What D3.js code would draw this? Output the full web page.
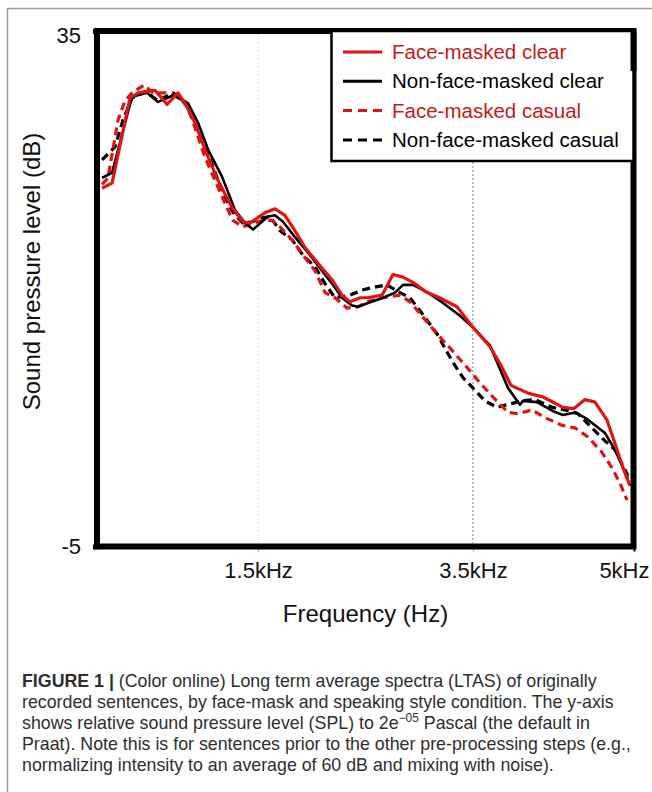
<!DOCTYPE html>
<html><head><meta charset="utf-8">
<script src="https://cdn.jsdelivr.net/npm/d3@7"></script>
<style>
body{margin:0;background:#fff}
svg{display:block}
text{font-family:"Liberation Sans", Arial, Helvetica, sans-serif}
</style>
</head><body>
<svg id="c" width="652" height="792"></svg>
<script>
// ---------- data ----------
const seriesNames = ["Face-masked clear","Non-face-masked clear","Face-masked casual","Non-face-masked casual"];

const fmClearHz = [47,140,307,382,540,652,754,819,912,1006,1127,1257,1359,1425,1564,1657,1750,1844,1937,2095,2188,2281,2356,2449,2523,2654,2756,2849,2942,3073,3166,3352,3501,3659,3752,3855,4013,4153,4339,4441,4544,4637,4749,4823,4898,4963];
const fmClearDb = [22.8,23.2,29.8,30.2,30.4,29.3,30.2,29.4,27.9,25.8,23.4,21.3,20.2,20.1,20.9,21.2,20.7,19.5,18.2,16.6,15.7,14.5,14.0,14.3,14.3,14.5,16.1,15.9,15.5,14.7,14.4,13.6,12.0,10.5,9.2,7.5,6.9,6.6,5.8,5.7,6.4,6.2,4.8,3.0,1.1,-0.3];

const nfmClearHz = [47,140,326,466,568,708,847,940,1034,1164,1285,1378,1453,1592,1657,1732,1844,1965,2095,2188,2281,2374,2430,2523,2663,2775,2849,2942,3082,3222,3380,3501,3659,3827,3938,3966,4097,4246,4339,4451,4562,4730,4823,4898,4944];
const nfmClearDb = [23.6,24.0,29.9,30.2,29.5,30.0,29.4,27.9,25.8,23.7,21.1,20.1,19.6,20.6,20.7,20.2,19.0,17.8,16.4,15.4,14.3,13.7,13.6,13.9,14.3,14.7,15.3,15.3,14.7,13.9,12.9,12.0,10.6,7.3,6.0,6.3,6.2,5.5,5.2,5.4,4.9,3.8,2.5,1.1,0.3];

const fmCasualHz = [47,102,196,261,326,438,521,633,754,847,912,1006,1099,1220,1266,1359,1453,1546,1629,1704,1816,1937,2030,2123,2216,2328,2430,2523,2663,2821,2914,3035,3166,3287,3445,3566,3687,3827,3920,4050,4171,4330,4451,4572,4702,4795,4870,4935];
const fmCasualDb = [23.1,23.6,28.1,29.6,30.2,30.8,30.2,30.2,29.9,29.1,27.5,25.2,23.4,21.1,20.3,19.8,20.1,20.3,20.3,19.8,18.8,17.4,16.4,14.7,14.3,13.5,13.6,14.0,14.3,14.5,14.0,12.8,11.5,10.4,8.9,7.7,6.6,5.4,5.3,5.6,5.0,4.4,4.2,3.5,2.3,1.1,-0.1,-1.4];

const nfmCasualHz = [47,168,242,326,447,568,708,819,912,1034,1127,1220,1285,1359,1443,1536,1611,1704,1816,1918,2030,2123,2216,2356,2467,2570,2700,2821,2914,3007,3166,3305,3408,3501,3612,3724,3957,4078,4237,4358,4479,4609,4730,4823,4888,4944];
const nfmCasualDb = [25.0,26.0,28.1,29.8,30.3,29.6,30.2,29.5,27.7,25.5,23.4,21.6,20.7,20.1,20.2,20.5,20.6,19.5,18.8,17.6,16.7,15.4,14.3,14.5,14.9,15.1,15.3,14.7,14.3,13.3,11.5,9.4,8.1,7.3,6.3,5.8,6.3,6.4,5.8,5.6,5.3,4.2,3.2,2.5,1.4,0.5];

const xTickValues = [1500, 3500, 5000];
const xTickLabels = ["1.5kHz", "3.5kHz", "5kHz"];
const yTickValues = [35, -5];
const yTickLabels = ["35", "-5"];
const xTitle = "Frequency (Hz)";
const yTitle = "Sound pressure level (dB)";

// ---------- styles ----------
const RED = "#dd1515", RED_TEXT = "#c41a1a";
const styles = [
  {color: RED, dash: null, width: 3.2, text: RED_TEXT},
  {color: "#000", dash: null, width: 2.6, text: "#000"},
  {color: RED, dash: "8,5", width: 3.2, text: RED_TEXT},
  {color: "#000", dash: "8,5", width: 3.2, text: "#000"}
];
const series = [
  d3.zip(fmClearHz, fmClearDb),
  d3.zip(nfmClearHz, nfmClearDb),
  d3.zip(fmCasualHz, fmCasualDb),
  d3.zip(nfmCasualHz, nfmCasualDb)
];

const svg = d3.select("#c");
const x = d3.scaleLinear().domain([0, 5000]).range([97, 634]);
const y = d3.scaleLinear().domain([-5, 35]).range([546.5, 31]);

// figure border
svg.append("path").attr("d", "M7.5,792 V8.5 H652").attr("fill", "none")
  .attr("stroke", "#9a9a9a").attr("stroke-width", 1.5);

// gridlines
svg.append("line").attr("x1", x(1500)).attr("x2", x(1500)).attr("y1", y(35) + 3).attr("y2", y(-5) - 3)
  .attr("stroke", "#d8d8d8").attr("stroke-width", 1).attr("stroke-dasharray", "2,2");
svg.append("line").attr("x1", x(3500)).attr("x2", x(3500)).attr("y1", y(35) + 3).attr("y2", y(-5) - 3)
  .attr("stroke", "#999").attr("stroke-width", 1.2).attr("stroke-dasharray", "2,2");

// axes
const xAxis = d3.axisBottom(x).tickValues(xTickValues)
  .tickFormat((d, i) => xTickLabels[i]).tickSize(5).tickPadding(11);
const gx = svg.append("g").attr("transform", `translate(0,${y(-5)})`).call(xAxis);
gx.select(".domain").remove();
gx.selectAll(".tick line").attr("stroke", "#aaa").attr("stroke-width", 1.2);
gx.selectAll(".tick text").attr("font-size", 22).attr("fill", "#111")
  .style("font-family", '"Liberation Sans", Arial, sans-serif');
gx.selectAll(".tick").filter(d => d === 5000).select("text").attr("text-anchor", "end").attr("dx", 15);
gx.selectAll(".tick").filter(d => d === 5000).select("line").attr("stroke", "#000").attr("stroke-width", 2);

const yAxis = d3.axisLeft(y).tickValues(yTickValues)
  .tickFormat((d, i) => yTickLabels[i]).tickSize(4).tickPadding(12);
const gy = svg.append("g").attr("transform", `translate(${x(0)},0)`).call(yAxis);
gy.select(".domain").remove();
gy.selectAll(".tick line").attr("stroke", "#000").attr("stroke-width", 5);
gy.selectAll(".tick text").attr("font-size", 22).attr("fill", "#111")
  .style("font-family", '"Liberation Sans", Arial, sans-serif');
gy.selectAll(".tick").filter(d => d === 35).select("text").attr("dy", "0.5em");

// lines
const line = d3.line().x(d => x(d[0])).y(d => y(d[1]));
const order = [3, 2, 1, 0];
order.forEach(i => {
  svg.append("path").datum(series[i]).attr("d", line).attr("fill", "none")
    .attr("stroke", styles[i].color).attr("stroke-width", styles[i].width)
    .attr("stroke-dasharray", styles[i].dash).attr("stroke-linejoin", "round");
});

// frame
svg.append("rect").attr("x", x(0)).attr("y", y(35)).attr("width", x(5000) - x(0) - 0.5)
  .attr("height", y(-5) - y(35)).attr("fill", "none").attr("stroke", "#000").attr("stroke-width", 6);

// legend
const lg = svg.append("g");
lg.append("rect").attr("x", 331.5).attr("y", y(35)).attr("width", x(5000) - 0.5 - 331.5).attr("height", 130)
  .attr("fill", "#fff").attr("stroke", "#000").attr("stroke-width", 2.5);
svg.append("path").attr("d", `M${x(5000)-0.5},${y(35)+40} V${y(35)}`).attr("stroke", "#000").attr("stroke-width", 6);
seriesNames.forEach((name, i) => {
  const by = 59 + i * 29.3;
  lg.append("line").attr("x1", 343).attr("x2", 382).attr("y1", by - 7).attr("y2", by - 7)
    .attr("stroke", styles[i].color).attr("stroke-width", 3)
    .attr("stroke-dasharray", styles[i].dash ? "9,6" : null);
  lg.append("text").attr("x", 392).attr("y", by).attr("font-size", 20.5)
    .attr("fill", styles[i].text).text(name);
});

// axis titles
svg.append("text").attr("x", 365.5).attr("y", 622).attr("text-anchor", "middle")
  .attr("font-size", 24).attr("fill", "#111").text(xTitle);
svg.append("text").attr("transform", "translate(40,271.5) rotate(-90)").attr("text-anchor", "middle")
  .attr("font-size", 24).attr("fill", "#111").text(yTitle);

// caption
const cap = svg.append("text").attr("font-size", 17.8).attr("fill", "#2e2e2e");
const cx = 22, base = 687, lh = 21.1;
const l1 = cap.append("tspan").attr("x", cx).attr("y", base);
l1.append("tspan").attr("font-weight", "bold").text("FIGURE 1 |");
l1.append("tspan").text(" (Color online) Long term average spectra (LTAS) of originally");
cap.append("tspan").attr("x", cx).attr("y", base + lh).text("recorded sentences, by face-mask and speaking style condition. The y-axis");
const l3 = cap.append("tspan").attr("x", cx).attr("y", base + 2 * lh);
l3.append("tspan").text("shows relative sound pressure level (SPL) to 2e");
l3.append("tspan").attr("font-size", 12).attr("dy", -7).text("\u221205");
l3.append("tspan").attr("dy", 7).text(" Pascal (the default in");
cap.append("tspan").attr("x", cx).attr("y", base + 3 * lh).text("Praat). Note this is for sentences prior to the other pre-processing steps (e.g.,");
cap.append("tspan").attr("x", cx).attr("y", base + 4 * lh).text("normalizing intensity to an average of 60 dB and mixing with noise).");
</script>
</body></html>
